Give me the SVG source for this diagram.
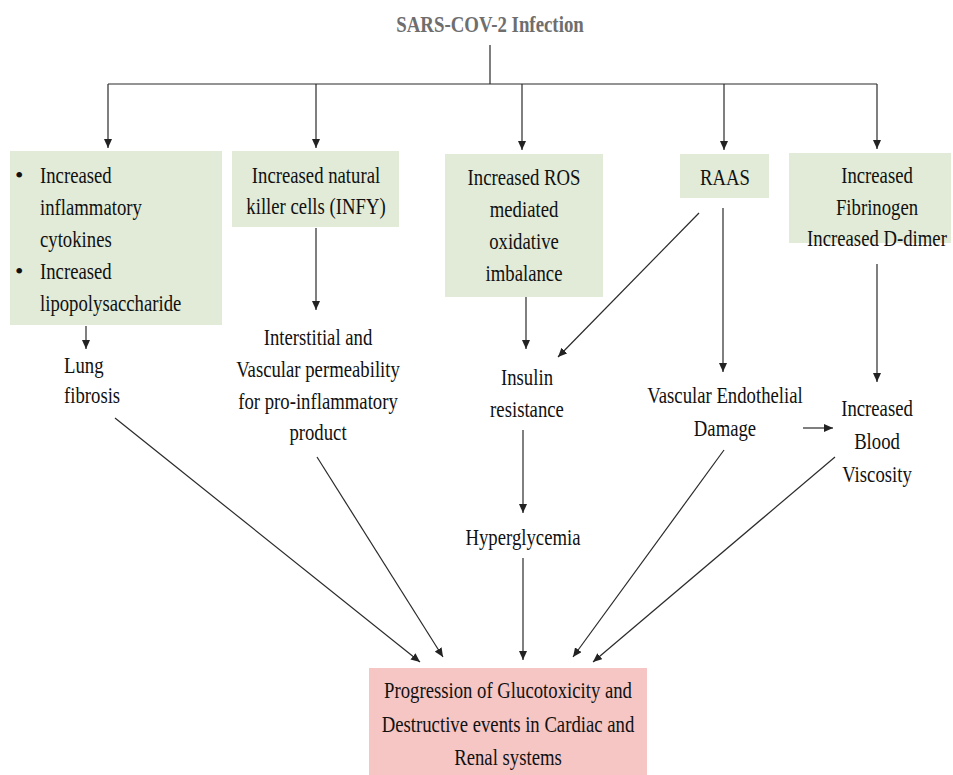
<svg xmlns="http://www.w3.org/2000/svg" width="953" height="775" viewBox="0 0 953 775">
<defs>
<marker id="ah" markerUnits="userSpaceOnUse" markerWidth="9" markerHeight="8" refX="9" refY="4" orient="auto">
<path d="M0,0 L9,4 L0,8 z" fill="#222"/>
</marker>
<style>
.t{font-family:"Liberation Serif","Times New Roman",serif;font-size:24px;fill:#111111}
.title{font-family:"Liberation Serif","Times New Roman",serif;font-size:23px;font-weight:bold;fill:#6e6e6e}
.g{fill:#e1ebd8}
.p{fill:#f5c6c4}
.c{stroke:#2a2a2a;stroke-width:1.2;fill:none}
.a{marker-end:url(#ah)}
</style>
</defs>
<rect width="953" height="775" fill="#ffffff"/>
<g id="title">
<text class="title" transform="translate(490,0) scale(0.82,1)" text-anchor="middle" x="0" y="32">SARS-COV-2 Infection</text>
</g>
<g id="connectors">
<path class="c" d="M490,45 V84 M108,84 H877"/>
<path class="c a" d="M108,84 V148"/>
<path class="c a" d="M316,84 V148"/>
<path class="c a" d="M522,84 V150"/>
<path class="c a" d="M724,84 V150"/>
<path class="c a" d="M877,84 V149"/>
<path class="c a" d="M86,326 V349"/>
<path class="c a" d="M316,228 V310"/>
<path class="c a" d="M526,297 V349"/>
<path class="c a" d="M699,213 L558,357"/>
<path class="c a" d="M723,208 V372"/>
<path class="c a" d="M877,264 V382"/>
<path class="c a" d="M523,430 V513"/>
<path class="c a" d="M803,428 H833"/>
<path class="c a" d="M115,418 L420,662"/>
<path class="c a" d="M317,457 L443,657"/>
<path class="c a" d="M523,558 V660"/>
<path class="c a" d="M724,450 L573,657"/>
<path class="c a" d="M835,457 L593,662"/>
</g>
<g id="node-cytokines">
<rect class="g" x="10" y="151" width="212" height="174"/>
<text class="t" x="15" y="183">•</text>
<text class="t" x="15" y="279">•</text>
<text class="t" transform="translate(40,0) scale(0.78,1)"><tspan x="0" y="183">Increased</tspan><tspan x="0" y="215">inflammatory</tspan><tspan x="0" y="247">cytokines</tspan><tspan x="0" y="279">Increased</tspan><tspan x="0" y="311">lipopolysaccharide</tspan></text>
</g>
<g id="node-nk">
<rect class="g" x="232" y="151" width="167" height="76"/>
<text class="t" transform="translate(316,0) scale(0.78,1)" text-anchor="middle"><tspan x="0" y="183">Increased natural</tspan><tspan x="0" y="214">killer cells (INFY)</tspan></text>
</g>
<g id="node-ros">
<rect class="g" x="445" y="154" width="158" height="143"/>
<text class="t" transform="translate(524,0) scale(0.78,1)" text-anchor="middle"><tspan x="0" y="185">Increased ROS</tspan><tspan x="0" y="217">mediated</tspan><tspan x="0" y="249">oxidative</tspan><tspan x="0" y="281">imbalance</tspan></text>
</g>
<g id="node-raas">
<rect class="g" x="680" y="154" width="89" height="44"/>
<text class="t" transform="translate(725,0) scale(0.78,1)" text-anchor="middle"><tspan x="0" y="185">RAAS</tspan></text>
</g>
<g id="node-fibrinogen">
<rect class="g" x="789" y="153" width="162" height="90"/>
<text class="t" transform="translate(877,0) scale(0.78,1)" text-anchor="middle"><tspan x="0" y="183">Increased</tspan><tspan x="0" y="215">Fibrinogen</tspan><tspan x="0" y="246">Increased D-dimer</tspan></text>
</g>
<g id="node-lung">
<text class="t" transform="translate(64,0) scale(0.78,1)"><tspan x="0" y="373">Lung</tspan><tspan x="0" y="403">fibrosis</tspan></text>
</g>
<g id="node-interstitial">
<text class="t" transform="translate(318,0) scale(0.78,1)" text-anchor="middle"><tspan x="0" y="345">Interstitial and</tspan><tspan x="0" y="377">Vascular permeability</tspan><tspan x="0" y="409">for pro-inflammatory</tspan><tspan x="0" y="440">product</tspan></text>
</g>
<g id="node-insulin">
<text class="t" transform="translate(527,0) scale(0.78,1)" text-anchor="middle"><tspan x="0" y="385">Insulin</tspan><tspan x="0" y="417">resistance</tspan></text>
</g>
<g id="node-hyperglycemia">
<text class="t" transform="translate(523,0) scale(0.78,1)" text-anchor="middle"><tspan x="0" y="545">Hyperglycemia</tspan></text>
</g>
<g id="node-vascular">
<text class="t" transform="translate(725,0) scale(0.78,1)" text-anchor="middle"><tspan x="0" y="403">Vascular Endothelial</tspan><tspan x="0" y="436">Damage</tspan></text>
</g>
<g id="node-viscosity">
<text class="t" transform="translate(877,0) scale(0.78,1)" text-anchor="middle"><tspan x="0" y="416">Increased</tspan><tspan x="0" y="449">Blood</tspan><tspan x="0" y="482">Viscosity</tspan></text>
</g>
<g id="node-progression">
<rect class="p" x="369" y="668" width="278" height="107"/>
<text class="t" transform="translate(508,0) scale(0.78,1)" text-anchor="middle"><tspan x="0" y="698">Progression of Glucotoxicity and</tspan><tspan x="0" y="732">Destructive events in Cardiac and</tspan><tspan x="0" y="765">Renal systems</tspan></text>
</g>
</svg>
